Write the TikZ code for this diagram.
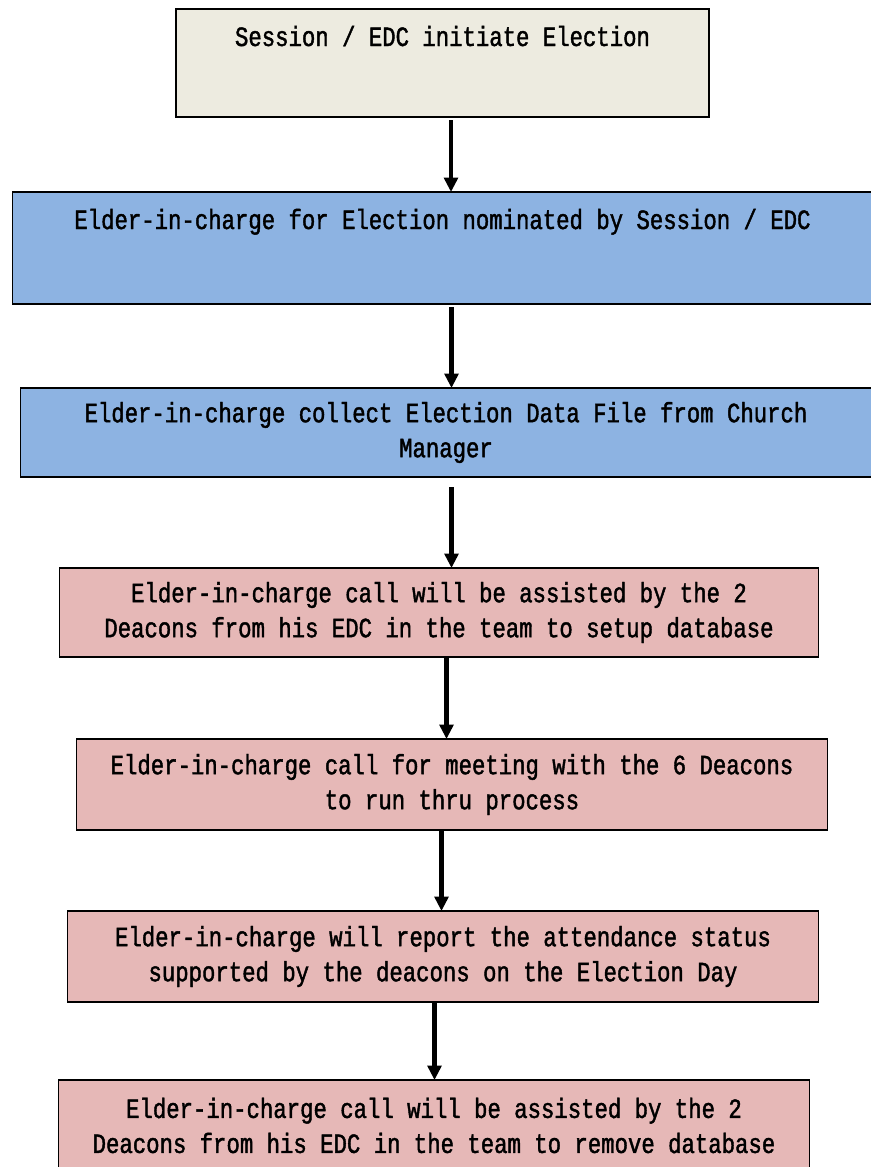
\documentclass[tikz,border=0pt]{standalone}
\usepackage{fontspec}
\usepackage{tikz}
\usetikzlibrary{positioning,arrows.meta}
\newfontfamily\boxfont[FakeStretch=0.8,FakeBold=1.5]{Liberation Mono}
\definecolor{initfill}{HTML}{EDEBE0}
\definecolor{elderfill}{HTML}{8DB3E2}
\definecolor{deaconfill}{HTML}{E6B8B7}

\tikzset{
  stepbox/.style = {draw=black, line width=1.3pt, outer sep=0pt, align=center,
    font=\boxfont\fontsize{23.8}{29.9}\selectfont},
  topbox/.style = {stepbox, inner ysep=0pt, text height=1.11cm},
  flow/.style = {line width=3.8pt, -{Triangle[length=4.3mm,width=4.1mm]}}
}

\begin{document}
\begin{tikzpicture}
    \useasboundingbox (0,0) rectangle (26.13,-35.01);
        \node(init) [topbox, fill=initfill, minimum width=15.99cm, text depth=2.13cm]
            at (13.275,-1.89) {Session / EDC initiate Election};
        \node(nominate) [topbox, fill=elderfill, minimum width=25.8cm, text depth=2.25cm,
            below = 2.25 of init] {Elder-in-charge for Election nominated by Session / EDC};
        \node(collect) [stepbox, fill=elderfill, minimum width=25.53cm, minimum height=2.67cm,
            below = 2.52 of nominate, xshift=0.105cm]
            {Elder-in-charge collect Election Data File from Church\\Manager};
        \node(setup) [stepbox, fill=deaconfill, minimum width=22.77cm, minimum height=2.67cm,
            below = 2.73 of collect, xshift=-0.21cm]
            {Elder-in-charge call will be assisted by the 2\\Deacons from his EDC in the team to setup database};
        \node(meeting) [stepbox, fill=deaconfill, minimum width=22.53cm, minimum height=2.73cm,
            below = 2.46 of setup, xshift=0.39cm]
            {Elder-in-charge call for meeting with the 6 Deacons\\to run thru process};
        \node(report) [stepbox, fill=deaconfill, minimum width=22.53cm, minimum height=2.73cm,
            below = 2.43 of meeting, xshift=-0.27cm]
            {Elder-in-charge will report the attendance status\\supported by the deacons on the Election Day};
        \node(remove) [stepbox, fill=deaconfill, minimum width=22.53cm, minimum height=2.73cm,
            below = 2.34 of report, xshift=-0.27cm]
            {Elder-in-charge call will be assisted by the 2\\Deacons from his EDC in the team to remove database};

        % arrows between the steps
        \draw[flow] ([xshift=2.55mm,yshift=-1mm]init.south) -- ([xshift=2.55mm]init.south |- nominate.north);
        \draw[flow] ([xshift=2.7mm,yshift=-1mm]nominate.south) -- ([xshift=2.7mm]nominate.south |- collect.north);
        \draw[flow] ([xshift=1.65mm,yshift=-3mm]collect.south) -- ([xshift=1.65mm]collect.south |- setup.north);
        \draw[flow] ([xshift=2.25mm]setup.south) -- ([xshift=2.25mm]setup.south |- meeting.north);
        \draw[flow] ([xshift=-3.15mm]meeting.south) -- ([xshift=-3.15mm]meeting.south |- report.north);
        \draw[flow] ([xshift=-2.55mm]report.south) -- ([xshift=-2.55mm]report.south |- remove.north);
    \end{tikzpicture}
\end{document}
